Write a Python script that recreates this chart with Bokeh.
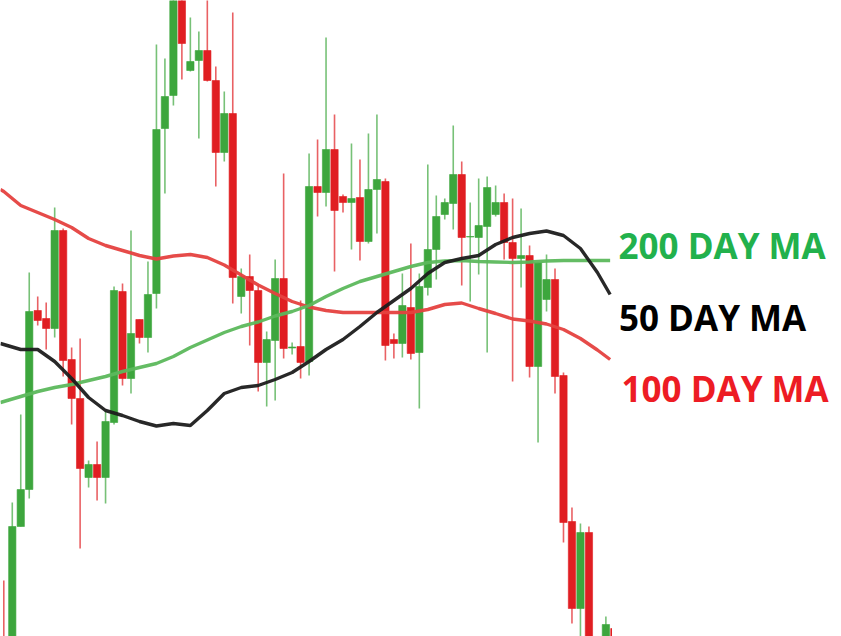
from bokeh.plotting import figure
from bokeh.models import Range1d, Label
from bokeh.layouts import row
from bokeh.embed import file_html
from bokeh.resources import INLINE

# ---- candle data (price units) ----
opens = [35.0, 34.0, 47.4, 51.1, 69.0, 68.2, 67.2, 77.0, 64.1, 60.2,
         52.3, 53.6, 52.3, 57.8, 70.9, 62.2, 68.1, 66.3, 70.7, 87.2,
         90.5, 100.2, 93.0, 94.0, 95.0, 92.0, 84.8, 88.7, 70.4, 72.4,
         71.0, 63.8, 66.0, 72.2, 65.25, 65.4, 63.9, 81.4, 80.8, 85.1,
         80.4, 79.8, 80.3, 75.9, 81.1, 81.9, 66.1, 65.7, 69.3, 64.8,
         71.3, 75.1, 78.6, 79.7, 82.6, 76.35, 76.3, 77.4, 78.6, 79.8,
         75.8, 74.2, 74.5, 63.4, 70.1, 72.1, 62.5, 47.9, 39.2, 46.8,
         34.0, 34.0, 37.2]
highs = [42.0, 49.8, 58.6, 72.8, 70.4, 69.8, 79.3, 77.2, 65.3, 66.2,
         54.0, 55.9, 59.0, 71.4, 71.7, 77.0, 68.1, 73.9, 95.6, 94.2,
         101.5, 101.0, 98.3, 96.9, 100.3, 93.4, 90.9, 98.8, 73.2, 74.6,
         71.6, 66.9, 74.1, 82.7, 65.8, 70.0, 84.7, 86.1, 96.3, 88.6,
         80.6, 85.7, 84.1, 86.7, 88.6, 82.2, 66.7, 72.7, 75.7, 72.7,
         83.6, 80.5, 80.2, 87.5, 83.9, 79.8, 82.2, 82.4, 81.5, 80.7,
         80.2, 79.2, 75.5, 73.8, 74.6, 73.2, 62.8, 49.3, 47.7, 47.4,
         35.0, 38.4, 37.5]
lows = [28.0, 33.0, 47.4, 50.2, 67.5, 65.1, 66.3, 62.4, 57.6, 45.2,
        51.3, 50.0, 49.7, 57.6, 61.5, 60.7, 65.7, 64.8, 69.2, 80.7,
        89.5, 92.1, 92.9, 86.2, 91.9, 81.4, 83.9, 69.7, 68.7, 65.5,
        60.9, 59.4, 60.0, 64.2, 64.6, 62.2, 62.5, 78.4, 79.4, 72.9,
        78.8, 75.1, 74.0, 75.7, 76.7, 64.0, 64.2, 64.3, 64.1, 59.2,
        70.5, 72.1, 78.1, 77.1, 71.5, 69.9, 72.6, 64.8, 78.4, 74.1,
        61.9, 71.3, 62.3, 55.8, 68.9, 60.7, 45.8, 37.7, 35.5, 32.0,
        30.0, 33.0, 32.5]
closes = [30.0, 47.4, 51.1, 68.9, 68.0, 67.2, 77.0, 64.0, 60.2, 53.2,
          53.6, 52.3, 57.9, 71.0, 62.2, 66.7, 66.3, 70.6, 87.1, 90.4,
          100.0, 95.7, 93.9, 95.0, 92.0, 84.8, 88.7, 72.3, 72.4, 71.0,
          63.8, 66.1, 72.2, 65.2, 65.35, 63.8, 81.4, 80.8, 85.1, 79.0,
          79.8, 80.2, 75.9, 81.1, 82.1, 65.5, 65.7, 69.5, 64.7, 71.4,
          75.1, 78.4, 79.8, 82.6, 76.3, 76.4, 77.5, 81.3, 79.8, 75.8,
          74.2, 74.5, 63.4, 73.8, 72.1, 62.4, 47.8, 39.2, 46.8, 33.5,
          31.0, 37.6, 34.0]
days = list(range(len(opens)))

# ---- moving averages (sampled at candle positions) ----
ma_days = [-0.4, 0, 2, 4, 6, 8, 10, 12, 14, 16, 18, 20, 22, 24, 26, 28, 30, 32,
           34, 36, 38, 40, 42, 44, 46, 48, 50, 52, 54, 56, 58, 60, 62, 64, 66,
           68, 70, 71.5]
ma100 = [81.1, 80.9, 79.5, 78.8, 78.1, 77.3, 76.2, 75.5, 75.0, 74.5, 74.15,
         74.45, 74.6, 74.3, 73.55, 72.55, 71.55, 70.7, 69.9, 69.35, 69.0, 68.8,
         68.8, 68.8, 68.8, 68.8, 69.1, 69.6, 69.75, 69.2, 68.7, 68.15, 67.95,
         67.65, 67.1, 66.2, 65.05, 64.1]
ma50 = [65.7, 65.6, 65.1, 65.1, 63.9, 62.2, 60.3, 59.0, 58.5, 57.9, 57.45,
        57.7, 57.5, 59.0, 60.7, 61.3, 61.5, 62.1, 62.8, 63.9, 65.1, 66.1, 67.4,
        68.8, 70.0, 71.2, 72.7, 73.8, 74.2, 74.5, 75.6, 76.3, 76.7, 76.95,
        76.5, 75.2, 72.8, 70.6]
ma200 = [59.8, 59.9, 60.4, 60.9, 61.3, 61.6, 62.0, 62.4, 62.9, 63.3, 63.7,
         64.4, 65.3, 66.05, 66.8, 67.4, 67.85, 68.45, 68.9, 69.5, 70.4, 71.2,
         71.9, 72.4, 72.9, 73.4, 73.8, 73.95, 74.0, 73.9, 73.85, 73.8, 73.85,
         73.95, 74.0, 74.0, 74.0, 74.0]

labels = ["200 DAY MA", "50 DAY MA", "100 DAY MA"]

UP = "#3da63d"
DOWN = "#e01e22"

inc = [i for i in days if closes[i] >= opens[i]]
dec = [i for i in days if closes[i] < opens[i]]

p = figure(width=612, height=636, output_backend="svg", toolbar_location=None,
           x_range=Range1d(-0.389, 71.78), y_range=Range1d(36.4, 100.0),
           x_axis_location=None, y_axis_location=None, min_border=0)
p.grid.visible = False
p.outline_line_color = None
p.background_fill_color = "white"

for idx, col in ((inc, UP), (dec, DOWN)):
    p.segment(x0=[days[i] for i in idx], y0=[highs[i] for i in idx],
              x1=[days[i] for i in idx], y1=[lows[i] for i in idx],
              line_color=col, line_width=1.6, line_alpha=0.7)
    p.vbar(x=[days[i] for i in idx], width=0.86,
           top=[max(opens[i], closes[i]) for i in idx],
           bottom=[min(opens[i], closes[i]) for i in idx],
           fill_color=col, line_color=col, line_width=0.6)

p.line(ma_days, ma100, line_color="#e5413f", line_width=3.4, line_alpha=0.95)
p.line(ma_days, ma200, line_color="#5cb85c", line_width=3.4, line_alpha=0.95)
p.line(ma_days, ma50, line_color="#1c1c1c", line_width=3.4, line_alpha=0.95)

q = figure(width=229, height=636, output_backend="svg", toolbar_location=None,
           x_range=Range1d(0, 229), y_range=Range1d(636, 0),
           x_axis_location=None, y_axis_location=None, min_border=0)
q.grid.visible = False
q.outline_line_color = None

label_colors = ["#22b14c", "#000000", "#ed1c24"]
label_pos = [(6, 244.5), (6.5, 316.5), (9, 387.5)]
for txt, col, (lx, ly) in zip(labels, label_colors, label_pos):
    q.add_layout(Label(x=lx, y=ly, text=txt, text_color=col,
                       text_font="Open Sans", text_font_style="bold",
                       text_font_size="35px", text_baseline="alphabetic",
                       text_align="left"))

layout = row(p, q, spacing=0)
open("out.html", "w").write(file_html(layout, INLINE))
